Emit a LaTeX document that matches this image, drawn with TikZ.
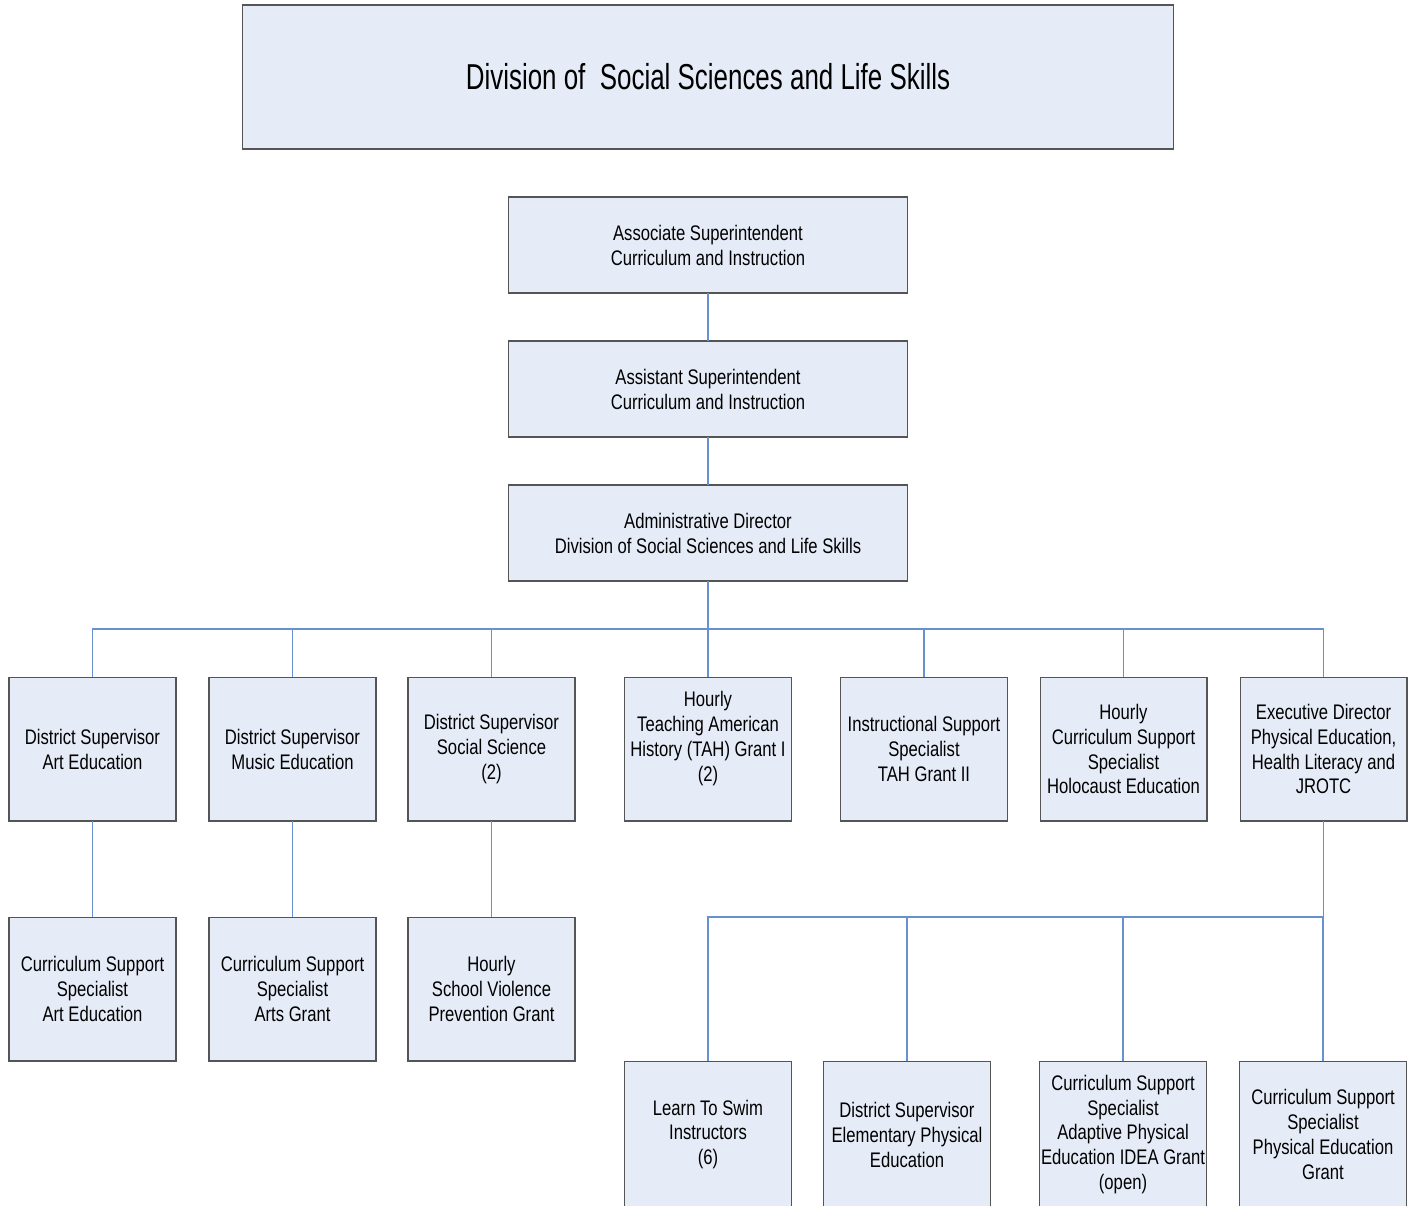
\documentclass[tikz,border=0pt]{standalone}
\usepackage{fontspec}
\setmainfont{Liberation Sans}[FakeStretch=0.79]
\newfontfamily\titlefont{Liberation Sans}[FakeStretch=0.72]
\definecolor{boxfill}{RGB}{230,236,247}
\definecolor{boxline}{RGB}{85,85,85}
\definecolor{linkblue}{RGB}{105,145,208}
\tikzset{
    box/.style={draw=boxline, line width=0.6pt, fill=boxfill, align=center,
        inner sep=0pt, outer sep=0pt, minimum width=3.34cm, minimum height=2.88cm,
        font=\fontsize{12}{14.2}\selectfont},
    wide/.style={box, minimum width=7.98cm, minimum height=1.92cm},
    link/.style={draw=linkblue, line width=0.7pt}
}
\begin{document}
\begin{tikzpicture}[x=0.02cm,y=-0.02cm]
                \useasboundingbox (0,0) rectangle (1416,1205);

                \node[box, minimum width=18.64cm, font=\titlefont\fontsize{20.5}{25}\selectfont] (T) at (708,77) {Division of\ \ Social Sciences and Life Skills};
                \node[wide] (A) at (708,245) {Associate Superintendent\\Curriculum and Instruction};
                \node[wide] (B) at (708,389) {Assistant Superintendent\\Curriculum and Instruction};
                \node[wide] (C) at (708,533) {Administrative Director\\Division of Social Sciences and Life Skills};

                \node[box] (s1) at (92.5,749) {District Supervisor\\Art Education};
                \node[box] (s2) at (292.5,749) {District Supervisor\\Music Education};
                \node[box] (s3) at (491.5,749) {District Supervisor\\Social Science\\(2)};
                \node[box] (s4) at (708,749) {Hourly\\Teaching American\\History (TAH) Grant I\\(2)\\~};
                \node[box] (s5) at (924,749) {Instructional Support\\Specialist\\TAH Grant II};
                \node[box] (s6) at (1123.5,749) {Hourly\\Curriculum Support\\Specialist\\Holocaust Education};
                \node[box] (s7) at (1323.5,749) {Executive Director\\Physical Education,\\Health Literacy and\\JROTC};

                \node[box] (t1) at (92.5,989) {Curriculum Support\\Specialist\\Art Education};
                \node[box] (t2) at (292.5,989) {Curriculum Support\\Specialist\\Arts Grant};
                \node[box] (t3) at (491.5,989) {Hourly\\School Violence\\Prevention Grant};

                \node[box, minimum height=2.94cm] (u1) at (708,1134.5) {Learn To Swim\\Instructors\\(6)};
                \node[box, minimum height=2.94cm] (u2) at (907,1134.5) {District Supervisor\\Elementary Physical\\Education};
                \node[box, minimum height=2.94cm] (u3) at (1123,1134.5) {Curriculum Support\\Specialist\\Adaptive Physical\\Education IDEA Grant\\(open)};
                \node[box, minimum height=2.94cm] (u4) at (1323,1134.5) {Curriculum Support\\Specialist\\Physical Education\\Grant};

                \draw[link] (A) -- (B);
                \draw[link] (B) -- (C);

                \coordinate (bus) at (708,629);
                \foreach \n in {s1,s2,s3,s4,s5,s6,s7}
                    \draw[link] (C.south) -- (C.south |- bus) -| (\n.north);

                \draw[link] (s1) -- (t1);
                \draw[link] (s2) -- (t2);
                \draw[link] (s3) -- (t3);

                \coordinate (bus2) at (708,917);
                \foreach \n in {u1,u2,u3,u4}
                    \draw[link] (s7.south) -- (s7.south |- bus2) -| (\n.north);
\end{tikzpicture}
\end{document}
